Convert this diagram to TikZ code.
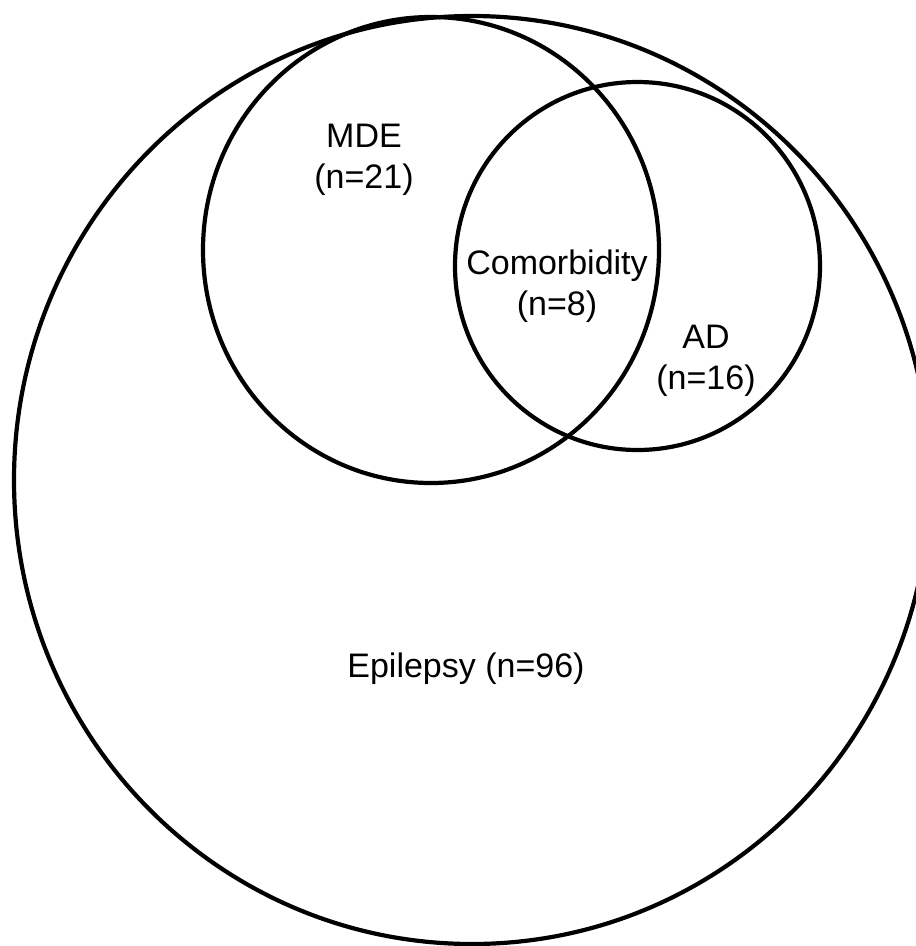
\documentclass[tikz,border=0pt]{standalone}
\usepackage{fontspec}
\setmainfont{Liberation Sans}
\begin{document}
\begin{tikzpicture}[x=1pt,y=-1pt,
  setline/.style={draw=black,line width=4.2pt},
  lbl/.style={align=center,inner sep=0pt,font=\fontsize{34}{41}\selectfont}]
\useasboundingbox (0,0) rectangle (916,946);
\begin{scope}
\clip (0,0) rectangle (916,946);
\draw[setline] (472,480) ellipse [x radius=458, y radius=464];
\end{scope}
\draw[setline] (431,250) ellipse [x radius=228, y radius=233];
\draw[setline] (637.5,266) ellipse [x radius=182.5, y radius=184];
\node[lbl] (mde) at (364,160) {MDE\\(n=21)};
\node[lbl] (como) at (557,286) {Comorbidity\\(n=8)};
\node[lbl] (ad) at (706,361) {AD\\(n=16)};
\node[lbl] (epi) at (466,669) {Epilepsy (n=96)};
\end{tikzpicture}
\end{document}
